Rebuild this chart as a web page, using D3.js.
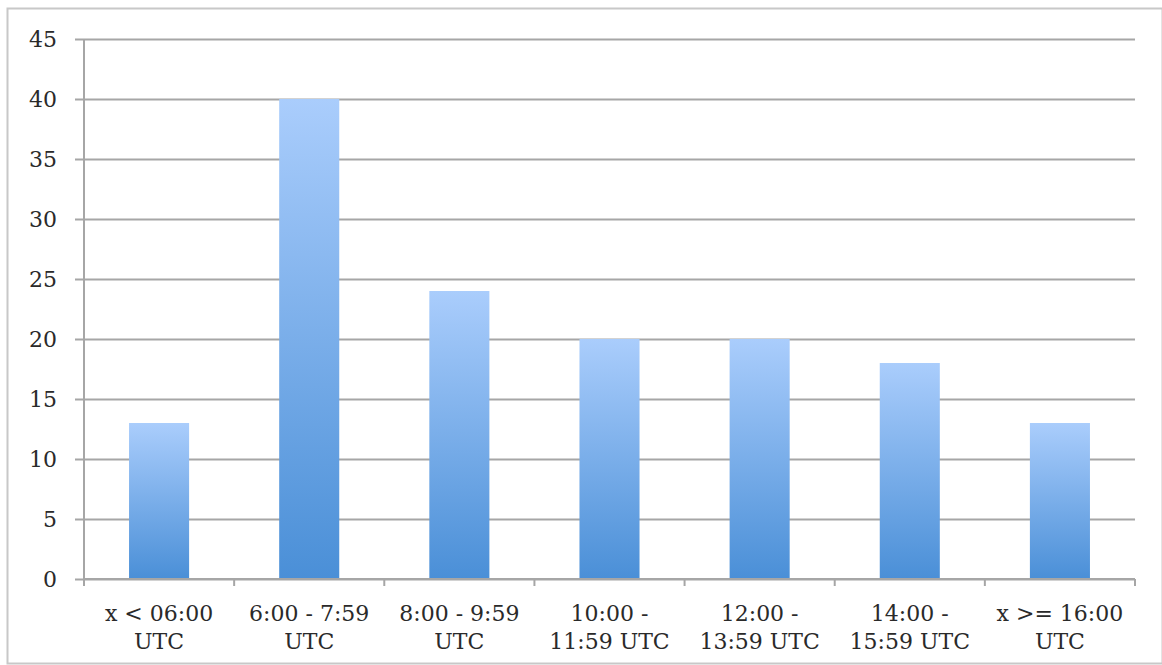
<!DOCTYPE html>
<html>
<head>
<meta charset="utf-8">
<script src="https://cdn.jsdelivr.net/npm/d3@7"></script>
<style>
  html, body { margin: 0; padding: 0; background: #fff; }
  svg { display: block; }
</style>
</head>
<body>
<svg id="chart" width="1162" height="665"></svg>
<script>
// Time-of-day buckets and their counts
const categories = [
  ["x < 06:00", "UTC"],
  ["6:00 - 7:59", "UTC"],
  ["8:00 - 9:59", "UTC"],
  ["10:00 -", "11:59 UTC"],
  ["12:00 -", "13:59 UTC"],
  ["14:00 -", "15:59 UTC"],
  ["x >= 16:00", "UTC"]
];
const values = [13, 40, 24, 20, 20, 18, 13];
const yTicks = [0, 5, 10, 15, 20, 25, 30, 35, 40, 45];

const svg = d3.select("#chart");
const W = 1162, H = 665;
const margin = { left: 84, right: 27, top: 39, bottom: 86 };
const plotW = W - margin.left - margin.right;
const plotH = H - margin.top - margin.bottom;

const font = "'DejaVu Serif', 'Liberation Serif', serif";
const textColor = "#2a2a2a";

// Outer frame
svg.append("rect")
  .attr("x", 7.5).attr("y", 8.5)
  .attr("width", W - 7).attr("height", H - 10)
  .attr("fill", "none").attr("stroke", "#c8c8c8").attr("stroke-width", 2);

const g = svg.append("g").attr("transform", `translate(${margin.left},${margin.top})`);

const x = d3.scaleBand()
  .domain(d3.range(categories.length))
  .range([0, plotW])
  .paddingInner(0.6).paddingOuter(0.3);

const y = d3.scaleLinear().domain([0, 45]).range([plotH, 0]);

// Bar fill: light at the top, deeper blue at the base
const defs = svg.append("defs");
const grad = defs.append("linearGradient")
  .attr("id", "barFill").attr("x1", 0).attr("y1", 0).attr("x2", 0).attr("y2", 1);
grad.append("stop").attr("offset", "0%").attr("stop-color", "#aacdfc");
grad.append("stop").attr("offset", "100%").attr("stop-color", "#4a8fd7");

// Horizontal gridlines with short ticks to the left
const yAxis = d3.axisLeft(y)
  .tickValues(yTicks)
  .tickSize(-plotW)
  .tickFormat(d3.format("d"));
const yg = g.append("g").call(yAxis);
yg.select(".domain").remove();
yg.selectAll(".tick line")
  .attr("x1", -9)
  .attr("stroke", "#a6a6a6").attr("stroke-width", 2);
yg.selectAll(".tick text")
  .attr("x", -27)
  .attr("dy", "0.36em")
  .attr("font-family", font).attr("font-size", 22).attr("fill", textColor);

// Vertical axis line
g.append("line")
  .attr("x1", 0).attr("x2", 0).attr("y1", y(45)).attr("y2", plotH)
  .attr("stroke", "#a6a6a6").attr("stroke-width", 2);

// Bars
g.selectAll("rect.bar")
  .data(values)
  .join("rect")
  .attr("class", "bar")
  .attr("x", (d, i) => x(i))
  .attr("y", d => y(d))
  .attr("width", x.bandwidth())
  .attr("height", d => plotH - y(d))
  .attr("fill", "url(#barFill)");

// Category boundary ticks on the base line
const bounds = d3.range(categories.length + 1).map(i => i * plotW / categories.length);
g.selectAll("line.cat-tick")
  .data(bounds)
  .join("line")
  .attr("class", "cat-tick")
  .attr("x1", d => d).attr("x2", d => d)
  .attr("y1", plotH).attr("y2", plotH + 7)
  .attr("stroke", "#a6a6a6").attr("stroke-width", 2);

// Base line
g.append("line")
  .attr("x1", 0).attr("x2", plotW).attr("y1", plotH).attr("y2", plotH)
  .attr("stroke", "#a6a6a6").attr("stroke-width", 2);

// Two-line category labels
const labels = g.selectAll("text.cat")
  .data(categories)
  .join("text")
  .attr("class", "cat")
  .attr("x", (d, i) => x(i) + x.bandwidth() / 2)
  .attr("y", plotH + 42)
  .attr("text-anchor", "middle")
  .attr("font-family", font).attr("font-size", 22).attr("fill", textColor);
labels.selectAll("tspan")
  .data(d => d)
  .join("tspan")
  .attr("x", function () { return d3.select(this.parentNode).attr("x"); })
  .attr("dy", (d, i) => i === 0 ? 0 : 28)
  .text(d => d);
</script>
</body>
</html>
